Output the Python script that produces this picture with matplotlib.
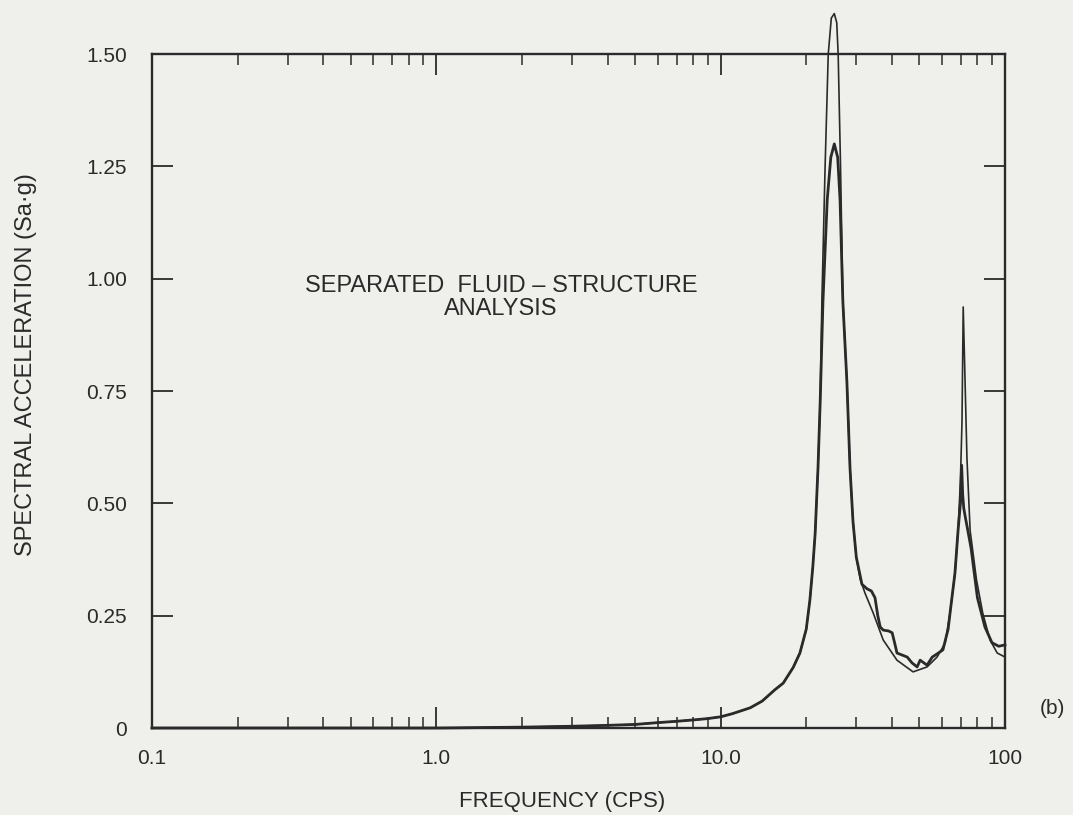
import numpy as np
import matplotlib
matplotlib.use("Agg")
import matplotlib.pyplot as plt
from matplotlib.ticker import FixedLocator, LogLocator, NullFormatter

plt.rcParams["font.family"] = ["Liberation Sans", "DejaVu Sans"]

# response spectrum, smooth solution (thin line)
thin_f = [0.1, 1.0, 2.0, 3.0, 4.0, 5.0, 6.0, 7.0, 8.0, 9.0, 10.0, 11.0,
          12.7, 14.0, 15.5, 16.6, 18.0, 19.0, 20.0, 20.6, 21.1, 21.5, 22.0,
          22.4, 22.7, 23.3, 23.9, 24.5, 25.1, 25.6, 25.9, 26.4, 26.9, 27.8,
          28.5, 29.2, 30.0, 31.0, 32.2, 34.4, 37.3, 41.7, 47.5, 53.2, 57.7,
          61.6, 64.1, 66.7, 68.4, 69.7, 70.6, 71.3, 72.2, 73.5, 75.4, 79.4,
          83.5, 88.6, 93.9, 100.0]
thin_sa = [0.0, 0.0, 0.002, 0.004, 0.006, 0.008, 0.012, 0.015, 0.018, 0.021,
           0.025, 0.032, 0.045, 0.06, 0.085, 0.10, 0.135, 0.167, 0.22, 0.285,
           0.36, 0.434, 0.58, 0.73, 0.95, 1.25, 1.50, 1.58, 1.59, 1.57, 1.50,
           1.25, 0.95, 0.77, 0.58, 0.46, 0.38, 0.33, 0.30, 0.256, 0.196,
           0.151, 0.125, 0.136, 0.158, 0.189, 0.256, 0.345, 0.44, 0.55, 0.68,
           0.937, 0.80, 0.60, 0.44, 0.33, 0.256, 0.196, 0.167, 0.158]

# separated fluid-structure analysis (heavier line)
sep_f = [0.1, 1.0, 2.0, 3.0, 4.0, 5.0, 6.0, 7.0, 8.0, 9.0, 10.0, 11.0,
         12.7, 14.0, 15.5, 16.6, 18.0, 19.0, 20.0, 20.6, 21.1, 21.5, 22.0,
         22.4, 22.9, 23.7, 24.4, 25.1, 25.8, 26.3, 26.9, 27.8, 28.5, 29.2,
         30.0, 31.4, 32.7, 33.9, 34.9, 35.7, 36.4, 37.3, 39.0, 40.1, 40.9,
         41.7, 45.3, 47.1, 49.1, 50.3, 53.2, 55.5, 57.7, 60.5, 63.1, 64.1,
         66.7, 68.4, 69.7, 70.4, 71.0, 71.6, 72.5, 74.0, 76.0, 80.0, 85.0,
         90.0, 95.0, 100.0]
sep_sa = [0.0, 0.0, 0.002, 0.004, 0.006, 0.008, 0.012, 0.015, 0.018, 0.021,
          0.025, 0.032, 0.045, 0.06, 0.085, 0.10, 0.135, 0.167, 0.22, 0.285,
          0.36, 0.434, 0.58, 0.73, 0.95, 1.175, 1.27, 1.30, 1.27, 1.175,
          0.95, 0.77, 0.58, 0.46, 0.38, 0.32, 0.31, 0.305, 0.29, 0.25,
          0.225, 0.218, 0.216, 0.212, 0.19, 0.167, 0.158, 0.145, 0.136,
          0.151, 0.140, 0.158, 0.165, 0.174, 0.22, 0.256, 0.345, 0.44, 0.50,
          0.585, 0.52, 0.49, 0.47, 0.44, 0.40, 0.29, 0.225, 0.19, 0.182,
          0.185]

y_ticks = [0, 0.25, 0.50, 0.75, 1.00, 1.25, 1.50]
y_labels = ["0", "0.25", "0.50", "0.75", "1.00", "1.25", "1.50"]
x_ticks = [0.1, 1.0, 10.0, 100.0]
x_labels = ["0.1", "1.0", "10.0", "100"]

ink = "#2a2a2a"
paper = "#efefec"

fig = plt.figure(figsize=(10.73, 8.15), dpi=100, facecolor=paper)
ax = fig.add_axes([0.1417, 0.1067, 0.7949, 0.827])
ax.set_facecolor(paper)

ax.plot(thin_f, thin_sa, color=ink, lw=1.2, clip_on=False, zorder=3)
ax.plot(sep_f, sep_sa, color=ink, lw=2.0, clip_on=False, zorder=4)

ax.set_xscale("log")
ax.set_xlim(0.1, 100)
ax.set_ylim(0, 1.5)

ax.xaxis.set_major_locator(FixedLocator(x_ticks))
ax.set_xticklabels(x_labels)
ax.xaxis.set_minor_locator(LogLocator(base=10, subs=np.arange(2, 10)))
ax.xaxis.set_minor_formatter(NullFormatter())
ax.set_yticks(y_ticks)
ax.set_yticklabels(y_labels)

ax.tick_params(axis="both", which="major", direction="in", length=15,
               width=1.3, color=ink, top=True, right=True,
               labelsize=15, labelcolor=ink)
ax.tick_params(axis="x", which="minor", direction="in", length=8,
               width=1.1, color=ink, top=True, bottom=True)
ax.tick_params(axis="y", pad=18)
ax.tick_params(axis="x", pad=15)
for s in ax.spines.values():
    s.set_color(ink)
    s.set_linewidth(1.7)

ax.set_xlabel("FREQUENCY (CPS)", fontsize=16, color=ink)
ax.set_ylabel("SPECTRAL ACCELERATION (Sa·g)", fontsize=17, color=ink)
ax.xaxis.set_label_coords(0.481, -0.093)
ax.yaxis.set_label_coords(-0.135, 0.539)

ax.text(0.409, 0.639, "SEPARATED  FLUID – STRUCTURE\nANALYSIS",
        transform=ax.transAxes, ha="center", va="center", fontsize=17,
        color=ink, linespacing=1.1)
fig.text(0.981, 0.131, "(b)", ha="center", va="center", fontsize=15,
         color=ink)

fig.savefig("out.png", dpi=100, facecolor=paper)
